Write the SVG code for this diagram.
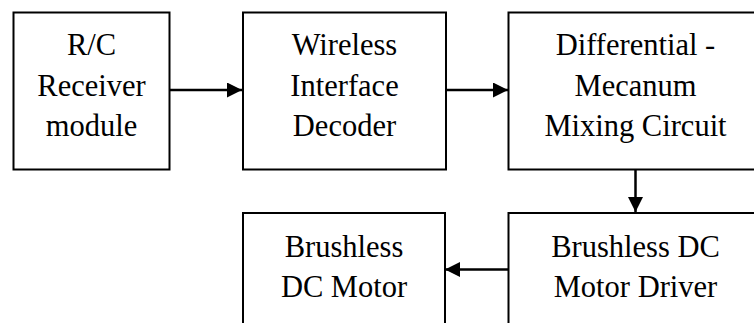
<svg xmlns="http://www.w3.org/2000/svg" width="754" height="323" viewBox="0 0 754 323">
<defs>
<marker id="ah" markerWidth="16" markerHeight="16" refX="15" refY="7.5" orient="auto" markerUnits="userSpaceOnUse">
<path d="M0,0 L15,7.5 L0,15 Z" fill="#000"/>
</marker>
<style>
.box{fill:#fff;stroke:#000;stroke-width:2}
.t{font-family:"Liberation Serif","Times New Roman",serif;font-size:30.5px;fill:#000;text-anchor:middle}
.c{stroke:#000;stroke-width:2.5;fill:none}
</style>
</defs>
<rect width="754" height="323" fill="#fff"/>
<g id="n1">
<rect class="box" x="13.5" y="12.5" width="156" height="157"/>
<text class="t" x="91.5" y="55">R/C</text>
<text class="t" x="91.5" y="95.5">Receiver</text>
<text class="t" x="91.5" y="135.5">module</text>
</g>
<g id="n2">
<rect class="box" x="243" y="12.5" width="203" height="157"/>
<text class="t" x="344.5" y="55">Wireless</text>
<text class="t" x="344.5" y="95.5">Interface</text>
<text class="t" x="344.5" y="135.5">Decoder</text>
</g>
<g id="n3">
<rect class="box" x="508.5" y="12.5" width="256" height="157"/>
<text class="t" x="635.5" y="55">Differential -</text>
<text class="t" x="635.5" y="95.5">Mecanum</text>
<text class="t" x="635.5" y="135.5">Mixing Circuit</text>
</g>
<g id="n4">
<rect class="box" x="243" y="213" width="202" height="130"/>
<text class="t" x="344" y="256.5">Brushless</text>
<text class="t" x="344" y="296.5">DC Motor</text>
</g>
<g id="n5">
<rect class="box" x="508.5" y="213" width="256" height="130"/>
<text class="t" x="635.5" y="256.5">Brushless DC</text>
<text class="t" x="635.5" y="296.5">Motor Driver</text>
</g>
<g id="connectors">
<line class="c" x1="170" y1="90" x2="242" y2="90" marker-end="url(#ah)"/>
<line class="c" x1="446" y1="90" x2="508" y2="90" marker-end="url(#ah)"/>
<line class="c" x1="635.5" y1="170" x2="635.5" y2="212" marker-end="url(#ah)"/>
<line class="c" x1="508" y1="269.5" x2="445" y2="269.5" marker-end="url(#ah)"/>
</g>
</svg>
